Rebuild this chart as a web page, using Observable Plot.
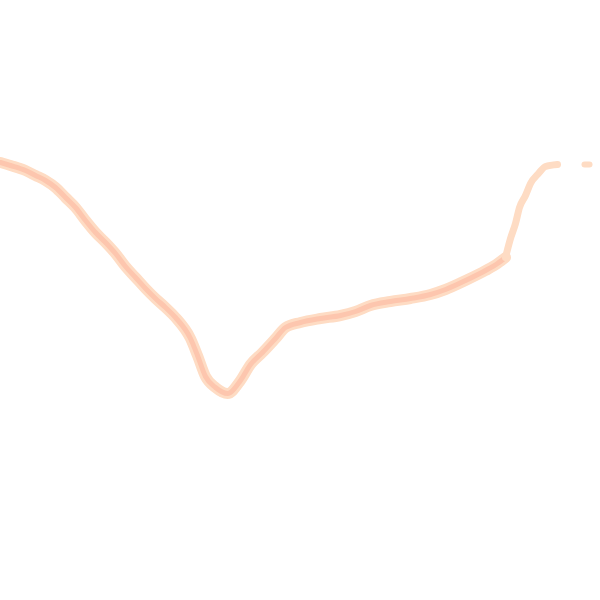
<!DOCTYPE html>
<html>
<head>
<meta charset="utf-8">
<script src="https://cdn.jsdelivr.net/npm/d3@7"></script>
<script src="https://cdn.jsdelivr.net/npm/@observablehq/plot@0.6"></script>
<style>
  html, body { margin: 0; padding: 0; background: #fff; }
</style>
</head>
<body>
<div id="chart"></div>
<script>
// Main series (x position, value)
const xs = [0, 10, 25, 35, 45, 55, 65, 75, 85, 95, 105, 115, 125, 135, 145, 155, 165, 175, 190, 197, 205, 215, 227, 240, 250, 262, 275, 285, 300, 320, 340, 355, 370, 390, 410, 430, 445, 465, 485, 497, 505];
const ys = [438, 435, 430, 425, 420, 413, 403, 393, 380, 368, 358, 347, 334, 323, 312, 302, 293, 283, 262, 245, 224, 213, 207, 220, 236, 248, 262, 273, 278, 282, 285, 289, 295, 299, 302, 306, 311, 320, 330, 337, 343];
// Tail series (lighter, thinner)
const tailX = [505, 510, 515, 519, 525, 530, 538, 545, 557];
const tailY = [343, 362, 377, 393, 405, 417, 427, 434, 436];
// Isolated final point
const lastX = [584, 589];
const lastY = [436, 436];

const main = xs.map((x, i) => ({x, y: ys[i]}));
const tail = tailX.map((x, i) => ({x, y: tailY[i]}));
const last = lastX.map((x, i) => ({x, y: lastY[i]}));

const chart = Plot.plot({
  width: 600,
  height: 600,
  margin: 0,
  x: {domain: [0, 600], axis: null},
  y: {domain: [0, 600], axis: null},
  marks: [
    Plot.line(main, {x: "x", y: "y", stroke: "#fedcc4", strokeWidth: 11, curve: "monotone-x"}),
    Plot.line(main, {x: "x", y: "y", stroke: "#fdc6ae", strokeWidth: 5, curve: "monotone-x"}),
    Plot.line(tail, {x: "x", y: "y", stroke: "#fedcc4", strokeWidth: 7, curve: "monotone-x"}),
    Plot.line(last, {x: "x", y: "y", stroke: "#fedcc4", strokeWidth: 6})
  ]
});
document.getElementById("chart").appendChild(chart);
</script>
</body>
</html>
